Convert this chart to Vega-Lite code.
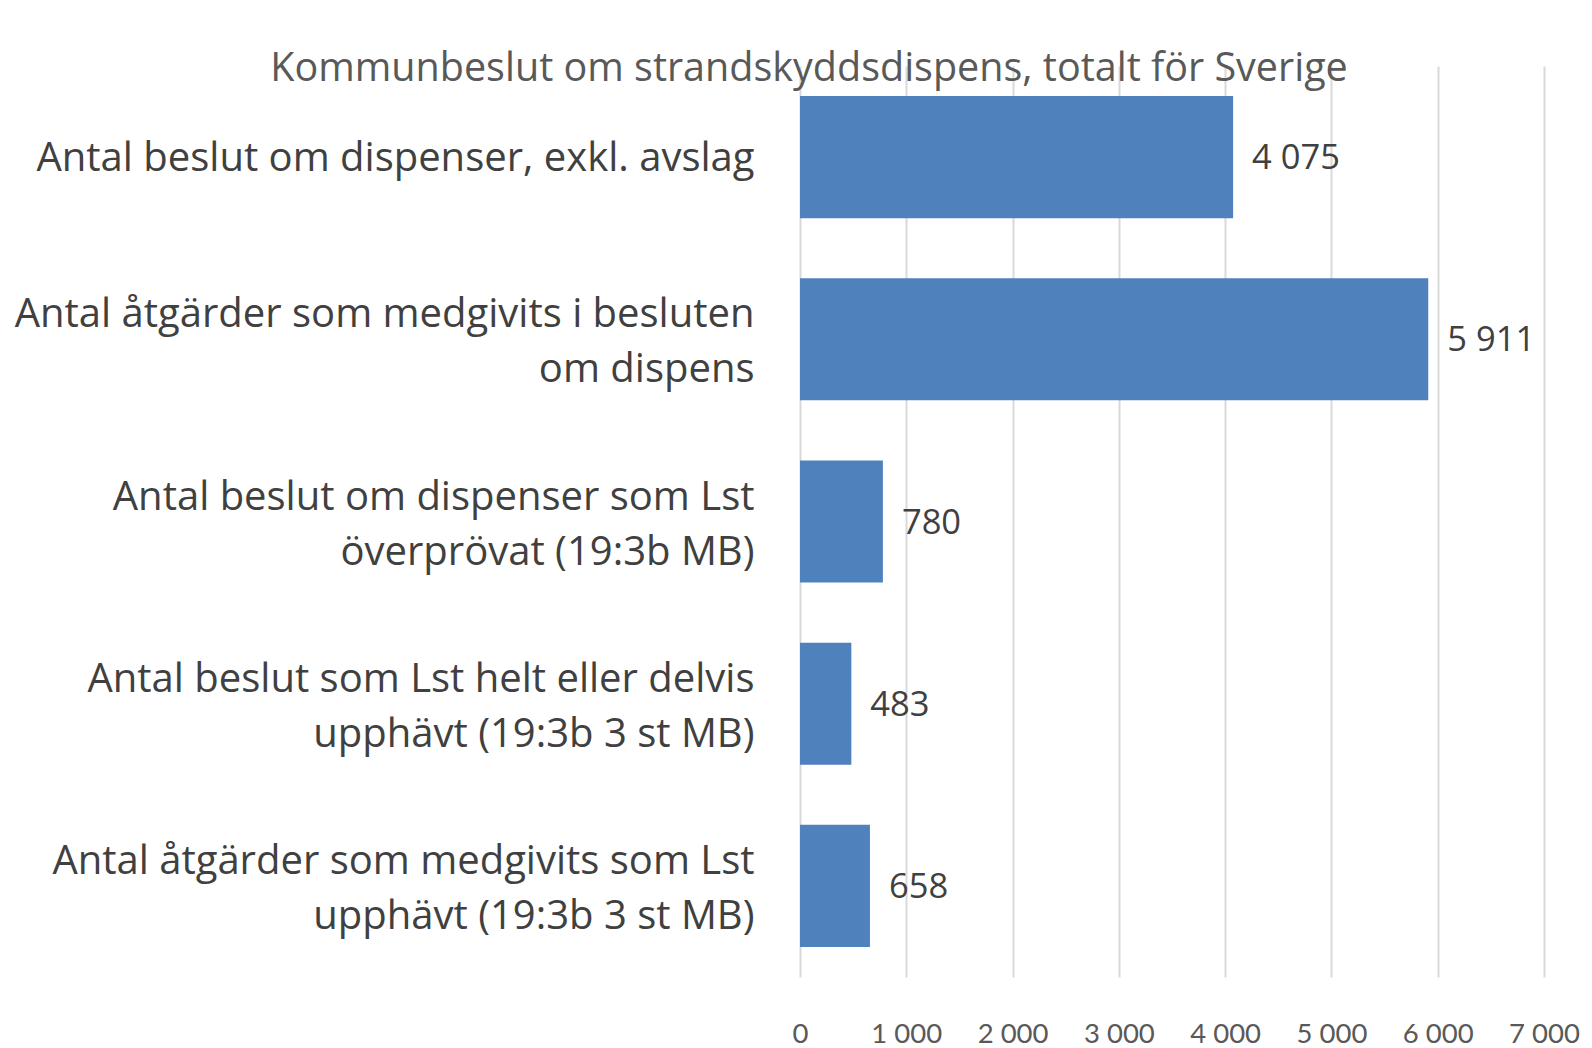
{
  "$schema": "https://vega.github.io/schema/vega-lite/v6.json",
  "autosize": "none",
  "width": 744,
  "height": 911,
  "padding": {"left": 800, "top": 66, "right": 48, "bottom": 71},
  "background": "white",
  "config": {
    "font": "Open Sans",
    "view": {"stroke": null},
    "locale": {"number": {"decimal": ",", "thousands": " ", "grouping": [3], "currency": ["", " kr"]}}
  },
  "title": {
    "text": "Kommunbeslut  om strandskyddsdispens,  totalt för Sverige",
    "anchor": "middle",
    "frame": "group",
    "dx": -363,
    "offset": -23,
    "fontSize": 39.5,
    "fontWeight": "normal",
    "color": "#595959",
    "font": "Open Sans"
  },
  "data": {
    "values": [
      {"kategori": "Antal beslut om dispenser, exkl. avslag", "antal": 4075},
      {"kategori": "Antal åtgärder som medgivits i besluten|om dispens", "antal": 5911},
      {"kategori": "Antal beslut om dispenser som Lst|överprövat (19:3b MB)", "antal": 780},
      {"kategori": "Antal beslut som Lst helt eller delvis|upphävt (19:3b 3 st MB)", "antal": 483},
      {"kategori": "Antal åtgärder som medgivits som Lst|upphävt (19:3b 3 st MB)", "antal": 658}
    ]
  },
  "encoding": {
    "y": {
      "field": "kategori",
      "type": "nominal",
      "sort": null,
      "scale": {"paddingInner": 0.33, "paddingOuter": 0.165},
      "axis": {
        "title": null,
        "domain": false,
        "ticks": false,
        "grid": false,
        "labelPadding": 46,
        "labelFontSize": 40,
        "labelColor": "#404040",
        "labelLimit": 800,
        "labelLineHeight": 55,
        "labelOffset": {"condition": {"test": "indexof(datum.value, '|') >= 0", "value": -24}, "value": 2},
        "labelExpr": "split(datum.label, '|')"
      }
    },
    "x": {
      "field": "antal",
      "type": "quantitative",
      "scale": {"domain": [0, 7000], "nice": false},
      "axis": {
        "title": null,
        "values": [0, 1000, 2000, 3000, 4000, 5000, 6000, 7000],
        "format": ",d",
        "domain": false,
        "ticks": false,
        "grid": true,
        "gridColor": "#D9D9D9",
        "gridWidth": 2,
        "labelPadding": 43,
        "labelFontSize": 27.5,
        "labelFont": "Lato",
        "labelColor": "#595959",
        "labelOverlap": false,
        "labelBound": false,
        "labelFlush": false
      }
    }
  },
  "layer": [
    {"mark": {"type": "bar", "color": "#4F81BD"}},
    {
      "mark": {"type": "text", "align": "left", "baseline": "middle", "dx": 19, "dy": 2, "fontSize": 34.5, "color": "#404040"},
      "encoding": {"text": {"field": "antal", "type": "quantitative", "format": ",d"}}
    }
  ]
}
